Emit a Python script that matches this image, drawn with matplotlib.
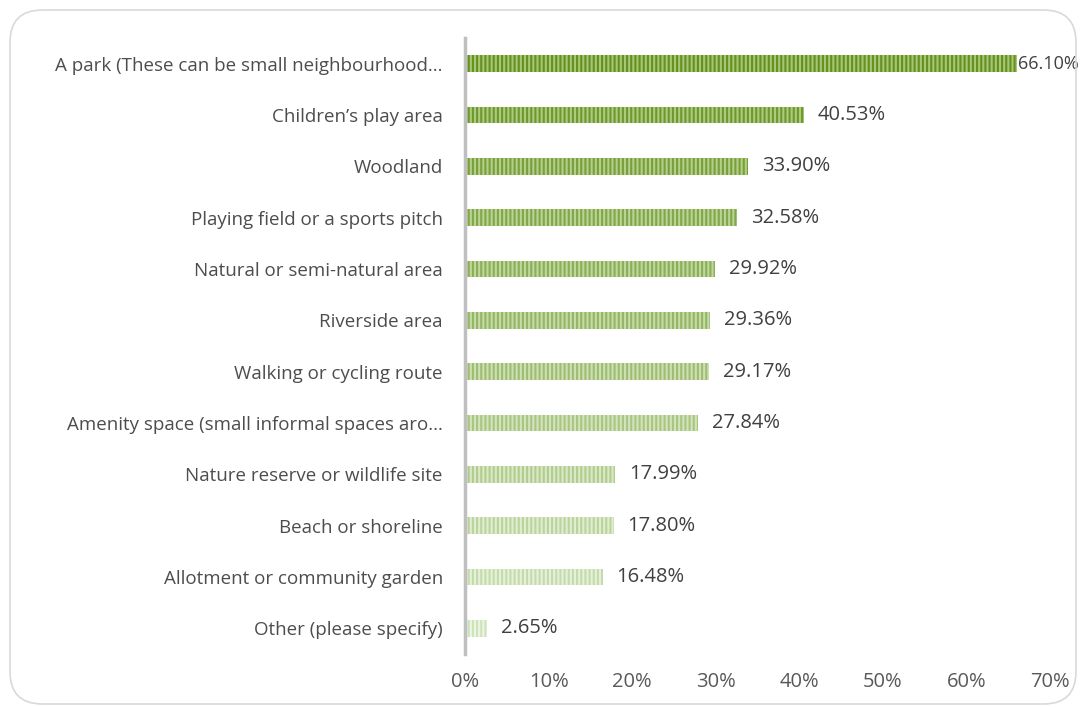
import matplotlib.pyplot as plt
from matplotlib.patches import FancyBboxPatch
from matplotlib.colors import to_rgb
import numpy as np

categories = ['A park (These can be small neighbourhood...',
              'Children\u2019s play area',
              'Woodland',
              'Playing field or a sports pitch',
              'Natural or semi-natural area',
              'Riverside area',
              'Walking or cycling route',
              'Amenity space (small informal spaces aro...',
              'Nature reserve or wildlife site',
              'Beach or shoreline',
              'Allotment or community garden',
              'Other (please specify)']
values = [66.10, 40.53, 33.90, 32.58, 29.92, 29.36, 29.17, 27.84, 17.99, 17.80, 16.48, 2.65]
xticks = [0, 10, 20, 30, 40, 50, 60, 70]

plt.rcParams['font.family'] = ['Open Sans', 'DejaVu Sans']
plt.rcParams['hatch.linewidth'] = 1.5

fig = plt.figure(figsize=(10.81, 7.07), dpi=100)
fig.patches.append(FancyBboxPatch((10/1081, 3/707), 1066/1081, 694/707,
                                  boxstyle='round,pad=0,rounding_size=0.03',
                                  transform=fig.transFigure, facecolor='none',
                                  edgecolor='#d9d9d9', linewidth=1.2, mutation_aspect=1081/707))
ax = fig.add_axes([465/1081, 1 - 654/707, 585/1081, 616/707])

dark_top, light_top = to_rgb('#66901e'), to_rgb('#a6c776')
dark_bot, light_bot = to_rgb('#cde3b9'), to_rgb('#edf5e4')
n = len(values)
y = np.arange(n)
for i, (v, yy) in enumerate(zip(values, y)):
    t = i / (n - 1)
    edge = tuple(a + (b - a) * t for a, b in zip(dark_top, dark_bot))
    face = tuple(a + (b - a) * t for a, b in zip(light_top, light_bot))
    ax.barh(yy, v, height=0.33, color=face, edgecolor=edge, hatch='||||', linewidth=0)
    # the top label sits against the right edge of the figure
    off, fs = (0.5, 13) if i == 0 else (10, 14.5)
    ax.annotate(f'{v:.2f}%', (v, yy), xytext=(off, 0), textcoords='offset points',
                va='center', ha='left', fontsize=fs, color='#404040')

ax.set_ylim(n - 0.5, -0.5)
ax.set_xlim(0, 70)
ax.set_yticks(y)
ax.set_yticklabels(categories, fontsize=13.5, color='#4d4d4d')
ax.set_xticks(xticks)
ax.set_xticklabels([f'{t}%' for t in xticks], fontsize=14.5, color='#595959')
ax.tick_params(axis='y', length=0, pad=16)
ax.tick_params(axis='x', length=0, pad=13)
for s in ['top', 'right', 'bottom']:
    ax.spines[s].set_visible(False)
ax.spines['left'].set_color('#bfbfbf')
ax.spines['left'].set_linewidth(2.5)

fig.savefig('out.png', dpi=100)
